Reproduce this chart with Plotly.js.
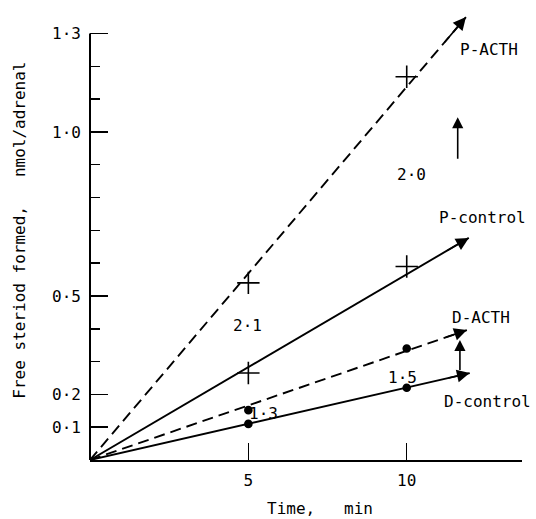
<!DOCTYPE html>
<html>
<head>
<meta charset="utf-8">
<script src="https://cdn.plot.ly/plotly-3.0.1.min.js"></script>
<style>html,body{margin:0;padding:0;background:#fff;}#chart{width:536px;height:519px;}</style>
</head>
<body>
<div id="chart"></div>
<script>
// ---- data ----
const times = [5, 10];
const pActh = [0.54, 1.168];
const pControl = [0.265, 0.59];
const dActh = [0.152, 0.34];
const dControl = [0.11, 0.22];

// fitted lines (origin -> arrow tip)
const pActhFitX = [0, 11.87];   const pActhFitY = [0, 1.35];
const pCtrlFitX = [0, 11.96];   const pCtrlFitY = [0, 0.677];
const dActhFitX = [0, 11.9];    const dActhFitY = [0, 0.396];
const dCtrlFitX = [0, 11.99];   const dCtrlFitY = [0, 0.265];

const xTickVals = [5, 10];
const xTickText = ['5', '10'];
const yTickVals = [0.1, 0.2, 0.5, 1.0, 1.3];
const yTickText = ['0·1', '0·2', '0·5', '1·0', '1·3'];
const yMinorVals = [0.3, 0.4, 0.6, 0.7, 0.8, 0.9, 1.1, 1.2];

const seriesNames = ['P-ACTH', 'P-control', 'D-ACTH', 'D-control'];
const ratioLabels = ['2·0', '2·1', '1·5', '1·3'];

const FONT = 'DejaVu Sans Mono, monospace';
const lw = 1.9;

function fitTrace(x, y, dash) {
  return {x: x, y: y, mode: 'lines', type: 'scatter', showlegend: false, hoverinfo: 'skip',
    line: {color: '#000', width: lw, dash: dash}};
}
function ptTrace(y, sym, size) {
  return {x: times, y: y, mode: 'markers', type: 'scatter', showlegend: false, cliponaxis: false,
    marker: {symbol: sym, size: size, color: '#000', line: {color: '#000', width: 1.6}}};
}

const dashPat = '11px,6px';
const traces = [
  fitTrace(pActhFitX, pActhFitY, dashPat),
  fitTrace(pCtrlFitX, pCtrlFitY, 'solid'),
  fitTrace(dActhFitX, dActhFitY, dashPat),
  fitTrace(dCtrlFitX, dCtrlFitY, 'solid'),
  ptTrace(pActh, 'cross-thin-open', 16),
  ptTrace(pControl, 'cross-thin-open', 16),
  ptTrace(dActh, 'circle', 7),
  ptTrace(dControl, 'circle', 7)
];

function tipArrow(fx, fy) {
  const hx = fx[1], hy = fy[1];
  return {x: hx, y: hy, ax: hx * 0.94, ay: hy * 0.94, axref: 'x', ayref: 'y', xref: 'x', yref: 'y',
    text: '', showarrow: true, arrowhead: 2, arrowsize: 1.6, arrowwidth: 1.6, arrowcolor: '#000'};
}
function label(text, x, y) {
  return {x: x, y: y, xref: 'x', yref: 'y', text: text, showarrow: false,
    font: {family: FONT, size: 16, color: '#000'}};
}

const annotations = [
  tipArrow(pActhFitX, pActhFitY),
  tipArrow(pCtrlFitX, pCtrlFitY),
  tipArrow(dActhFitX, dActhFitY),
  tipArrow(dCtrlFitX, dCtrlFitY),
  // vertical arrows
  {x: 11.61, y: 1.045, ax: 11.61, ay: 0.914, axref: 'x', ayref: 'y', xref: 'x', yref: 'y', text: '',
    showarrow: true, arrowhead: 2, arrowsize: 1.4, arrowwidth: 1.6, arrowcolor: '#000'},
  {x: 11.68, y: 0.366, ax: 11.68, ay: 0.27, axref: 'x', ayref: 'y', xref: 'x', yref: 'y', text: '',
    showarrow: true, arrowhead: 2, arrowsize: 1.4, arrowwidth: 1.6, arrowcolor: '#000'},
  label(seriesNames[0], 12.6, 1.25),
  label(seriesNames[1], 12.4, 0.738),
  label(seriesNames[2], 12.34, 0.433),
  label(seriesNames[3], 12.56, 0.177),
  label(ratioLabels[0], 10.16, 0.869),
  label(ratioLabels[1], 4.97, 0.411),
  label(ratioLabels[2], 9.87, 0.25),
  label(ratioLabels[3], 5.47, 0.143),
  // axis titles
  {xref: 'paper', yref: 'paper', x: -0.164, y: 0.51, xanchor: 'center', yanchor: 'middle',
    text: 'Free steriod formed,   nmol/adrenal',
    textangle: -90, showarrow: false, font: {family: FONT, size: 16, color: '#000'}},
  {xref: 'x', yref: 'paper', x: 7.25, y: -0.107, xanchor: 'center', yanchor: 'middle',
    text: 'Time,   min', showarrow: false,
    font: {family: FONT, size: 16, color: '#000'}}
];

const layout = {
  width: 536, height: 519,
  margin: {l: 90, r: 14, t: 10, b: 59},
  paper_bgcolor: '#fff', plot_bgcolor: '#fff',
  showlegend: false,
  font: {family: FONT, size: 16, color: '#000'},
  xaxis: {
    range: [0, 13.64], showgrid: false, zeroline: false,
    showline: true, linecolor: '#000', linewidth: 2,
    tickmode: 'array', tickvals: xTickVals, ticktext: xTickText,
    ticks: 'inside', ticklen: 17, tickwidth: 1.5, tickcolor: '#000',
    ticklabelstandoff: 5,
    tickfont: {family: FONT, size: 16, color: '#000'}
  },
  yaxis: {
    range: [0, 1.3716], showgrid: false, zeroline: false,
    showline: false,
    tickmode: 'array', tickvals: yTickVals, ticktext: yTickText,
    ticks: 'inside', ticklen: 18, tickwidth: 1.5, tickcolor: '#000',
    ticklabelstandoff: 8,
    tickfont: {family: FONT, size: 16, color: '#000'},
    minor: {tickmode: 'array', tickvals: yMinorVals, ticks: 'inside', ticklen: 10, tickwidth: 1.5, tickcolor: '#000', showgrid: false}
  },
  shapes: [
    {type: 'line', xref: 'paper', yref: 'y', x0: 0, x1: 0, y0: 0, y1: yTickVals[yTickVals.length - 1],
      line: {color: '#000', width: 2}}
  ],
  annotations: annotations
};

Plotly.newPlot('chart', traces, layout, {displayModeBar: false, staticPlot: true});
</script>
</body>
</html>
